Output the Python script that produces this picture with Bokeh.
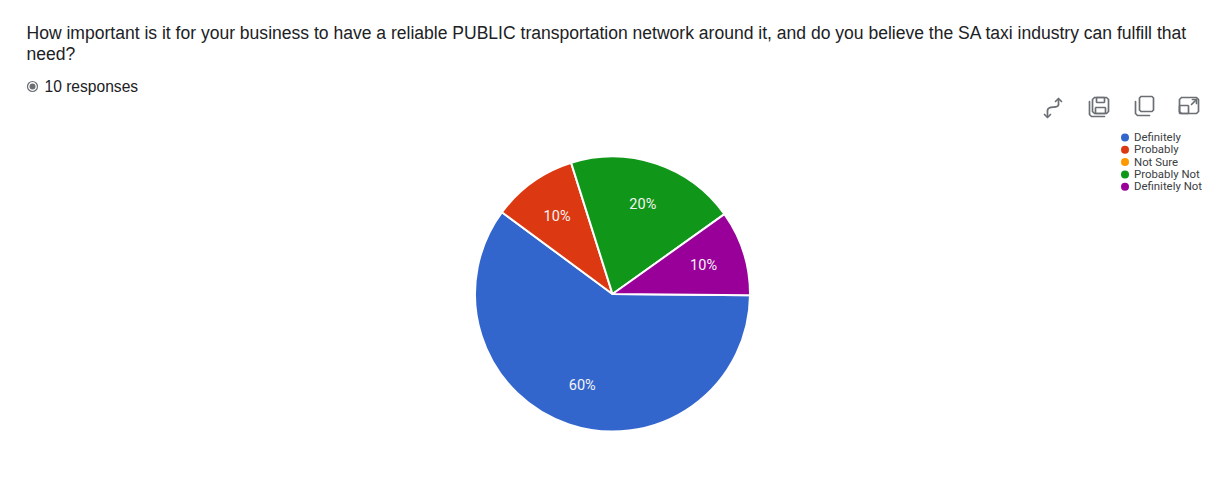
import math
from bokeh.core.properties import value
from bokeh.embed import file_html
from bokeh.models import ColumnDataSource
from bokeh.plotting import figure
from bokeh.resources import INLINE

# Survey answers and their share of the 10 responses
categories = ["Definitely", "Probably", "Not Sure", "Probably Not", "Definitely Not"]
shares = [60, 10, 0, 20, 10]
colors = ["#3366cc", "#dc3912", "#ff9900", "#109618", "#990099"]

title_lines = [
    "How important is it for your business to have a reliable PUBLIC transportation network around it, and do you believe the SA taxi industry can fulfill that",
    "need?",
]
response_text = "10 responses"

WIDTH, HEIGHT = 1210, 477
CX, CY, RADIUS = 612, 293.5, 137.5
LABEL_RADIUS = 95.5
START_DEG = -0.5  # the first slice runs clockwise from here
FONT = "Liberation Sans"
UI_GREY = "#6b6f73"


def Y(py):
    """Convert a y measured down from the page top to the plot's upward axis."""
    return HEIGHT - py


p = figure(width=WIDTH, height=HEIGHT, x_range=(0, WIDTH), y_range=(0, HEIGHT),
           output_backend="svg", toolbar_location=None, min_border=0,
           background_fill_color="white", border_fill_color="white",
           outline_line_color=None)
p.axis.visible = False
p.grid.visible = False

# Pie slices and percentage labels, clockwise from the start angle
ends, starts, slice_colors, lx, ly, ltext = [], [], [], [], [], []
angle = START_DEG
for share, color in zip(shares, colors):
    if share == 0:
        continue
    sweep = share / sum(shares) * 360
    start, end = angle - sweep, angle
    mid = math.radians((start + end) / 2)
    starts.append(math.radians(start))
    ends.append(math.radians(end))
    slice_colors.append(color)
    lx.append(CX + LABEL_RADIUS * math.cos(mid))
    ly.append(Y(CY + 0.7) + LABEL_RADIUS * math.sin(mid))
    ltext.append(f"{share}%")
    angle = start

p.wedge(x=CX, y=Y(CY), radius=RADIUS,
        start_angle="start", end_angle="end", fill_color="color",
        line_color="white", line_width=2,
        source=ColumnDataSource(dict(start=starts, end=ends, color=slice_colors)))
p.text(x=lx, y=ly, text=ltext, text_color="#f4f4f4", text_font=value("Roboto"),
       text_font_size="14.5px", text_align="center", text_baseline="middle")

# Question heading and response count
p.text(x=[26, 26], y=[Y(32), Y(53)], text=title_lines, text_color="#202124",
       text_font=value(FONT), text_font_size="17.55px", text_baseline="middle")
p.text(x=[44], y=[Y(86)], text=[response_text], text_color="#202124",
       text_font=value(FONT), text_font_size="15.6px", text_baseline="middle")
p.scatter(x=[32], y=[Y(86)], size=10, fill_color=None, line_color=UI_GREY, line_width=1.2)
p.scatter(x=[32], y=[Y(86)], size=6, fill_color=UI_GREY, line_color=None)

# Legend, one row per answer
legend_y = [137 + 12.3 * i for i in range(len(categories))]
p.scatter(x=[1124.5] * len(categories), y=[Y(v) for v in legend_y], size=8,
          fill_color=colors, line_color=None)
p.text(x=[1133.5] * len(categories), y=[Y(v - 0.6) for v in legend_y], text=categories,
       text_color="#3c4043", text_font=value("Roboto"), text_font_size="11.4px",
       text_baseline="middle")


def stroke(xs, ys, width=1.7):
    p.line(x=xs, y=[Y(v) for v in ys], line_color=UI_GREY, line_width=width,
           line_join="round", line_cap="round")


def outline(x0, y0, x1, y1, cut=2):
    """Rectangle with softened corners."""
    stroke([x0 + cut, x1 - cut, x1, x1, x1 - cut, x0 + cut, x0, x0, x0 + cut],
           [y0, y0, y0 + cut, y1 - cut, y1, y1, y1 - cut, y0 + cut, y0])


# Chart action icons along the top right
stroke([1058, 1058], [99, 104])
stroke([1055, 1058, 1061], [101, 98, 101])
p.bezier(x0=[1058], y0=[Y(104)], x1=[1047], y1=[Y(110)],
         cx0=[1058], cy0=[Y(109)], cx1=[1047], cy1=[Y(104)],
         line_color=UI_GREY, line_width=1.7)
stroke([1047, 1047], [110, 116])
stroke([1044, 1047, 1050], [114, 117, 114])

outline(1092, 97, 1108, 113)
stroke([1089, 1089, 1091, 1104], [101, 114, 116, 116])
outline(1096, 97, 1104, 102, cut=0.5)
outline(1095, 107, 1105, 113, cut=0.5)

outline(1139, 96, 1153, 111, cut=1.5)
stroke([1135, 1135, 1137, 1149], [101, 113, 115, 115])

outline(1179, 97, 1198, 113)
outline(1179, 105, 1188, 113, cut=0.5)
stroke([1191, 1196], [104, 99])
stroke([1192, 1196, 1196], [99, 99, 103])

with open("out.html", "w") as f:
    f.write(file_html(p, INLINE))
